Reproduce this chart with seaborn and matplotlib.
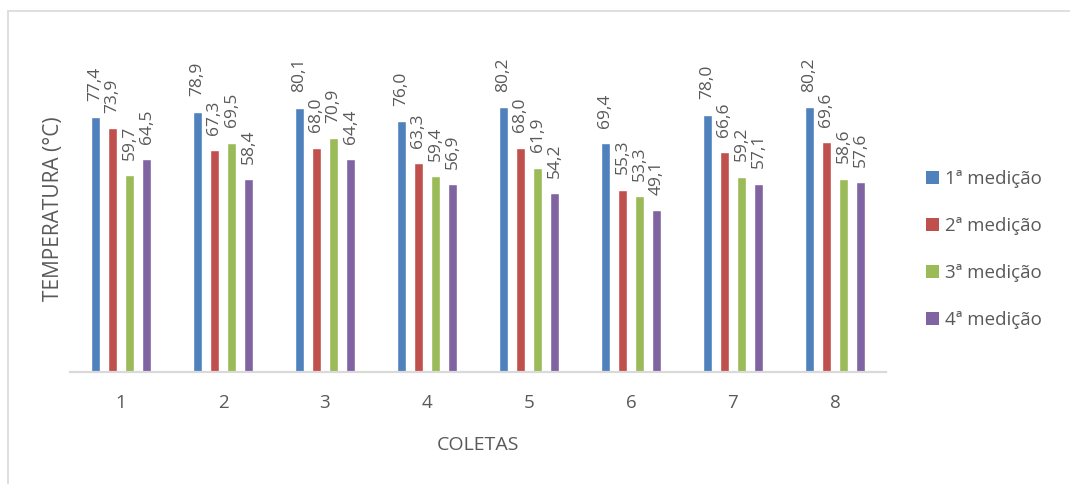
import matplotlib
matplotlib.use("Agg")
import matplotlib.pyplot as plt
from matplotlib.patches import Patch
from matplotlib.lines import Line2D
import seaborn as sns
import pandas as pd

coletas = ["1", "2", "3", "4", "5", "6", "7", "8"]
medicoes = ["1ª medição", "2ª medição", "3ª medição", "4ª medição"]
med1 = [77.4, 78.9, 80.1, 76.0, 80.2, 69.4, 78.0, 80.2]
med2 = [73.9, 67.3, 68.0, 63.3, 68.0, 55.3, 66.6, 69.6]
med3 = [59.7, 69.5, 70.9, 59.4, 61.9, 53.3, 59.2, 58.6]
med4 = [64.5, 58.4, 64.4, 56.9, 54.2, 49.1, 57.1, 57.6]
cores = ["#4F81BD", "#C0504D", "#9BBB59", "#8064A2"]

rows = []
for nome, serie in zip(medicoes, [med1, med2, med3, med4]):
    for c, v in zip(coletas, serie):
        rows.append({"Coleta": c, "Medição": nome, "Temperatura": v})
df = pd.DataFrame(rows)

sns.set_theme(style="white")
plt.rcParams["font.family"] = ["Open Sans", "DejaVu Sans"]
texto = "#595959"

W, H = 1070, 484
fig = plt.figure(figsize=(W / 100, H / 100), dpi=100)
ax = fig.add_axes([70 / W, (H - 372) / H, 816 / W, 330 / H])

sns.barplot(data=df, x="Coleta", y="Temperatura", hue="Medição",
            order=coletas, hue_order=medicoes, palette=cores,
            width=0.667, gap=0.47, saturation=1, errorbar=None,
            legend=False, ax=ax)

ax.set_ylim(0, 100)
ax.set_xlim(-0.5, 7.5)
for container in ax.containers:
    for bar in container:
        h = bar.get_height()
        ax.annotate(f"{h:.1f}".replace(".", ","),
                    (bar.get_x() + bar.get_width() / 2, h),
                    xytext=(0, 11), textcoords="offset points",
                    rotation=90, ha="center", va="bottom",
                    fontsize=12.5, color=texto)

for s in ["top", "right", "left"]:
    ax.spines[s].set_visible(False)
ax.spines["bottom"].set_color("#D9D9D9")
ax.spines["bottom"].set_linewidth(1.6)
ax.set_yticks([])
ax.tick_params(axis="x", length=0, pad=16, labelsize=13.5, labelcolor=texto)

ax.set_xlabel("COLETAS", fontsize=14, color=texto, labelpad=17)
ax.set_ylabel("TEMPERATURA (°C)", fontsize=15, color=texto, va="center")
ax.yaxis.set_label_coords((54 - 70) / 816, 0.494)

handles = [Patch(facecolor=c, edgecolor="none", label=m) for c, m in zip(cores, medicoes)]
fig.legend(handles=handles, loc="upper left",
           bbox_to_anchor=(926 / W, 1 - 170 / H), frameon=False,
           fontsize=13.5, labelcolor=texto, handlelength=0.7, handleheight=0.7,
           handletextpad=0.3, labelspacing=1.55, borderpad=0, borderaxespad=0)

# chart frame (top and left edges)
fig.add_artist(Line2D([8 / W, 8 / W], [0, 1 - 11 / H], color="#D9D9D9", lw=1.2))
fig.add_artist(Line2D([8 / W, 1], [1 - 11 / H, 1 - 11 / H], color="#D9D9D9", lw=1.2))

fig.savefig("out.png", dpi=100, facecolor="white")
